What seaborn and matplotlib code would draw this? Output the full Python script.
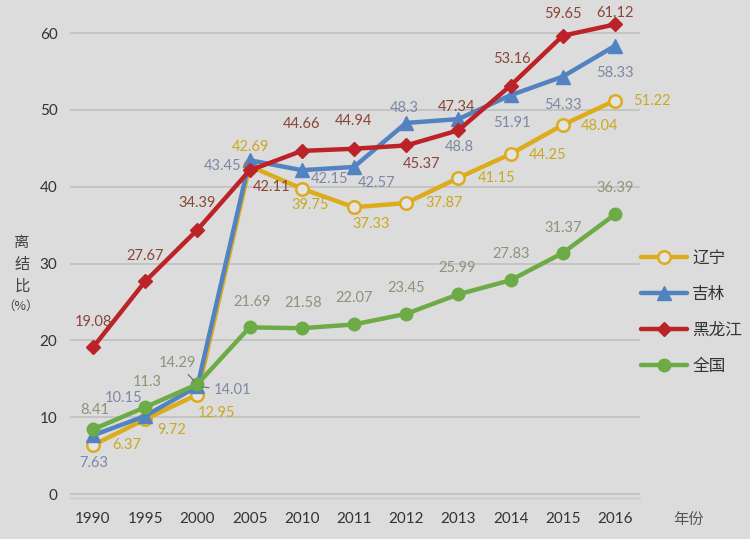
import numpy as np
import pandas as pd
import matplotlib
matplotlib.use("Agg")
import matplotlib.pyplot as plt
import seaborn as sns

years = ["1990", "1995", "2000", "2005", "2010", "2011", "2012", "2013", "2014", "2015", "2016"]
series_names = ["辽宁", "吉林", "黑龙江", "全国"]
liaoning = [6.37, 9.72, 12.95, 42.69, 39.75, 37.33, 37.87, 41.15, 44.25, 48.04, 51.22]
jilin = [7.63, 10.15, 14.01, 43.45, 42.15, 42.57, 48.3, 48.8, 51.91, 54.33, 58.33]
heilongjiang = [19.08, 27.67, 34.39, 42.11, 44.66, 44.94, 45.37, 47.34, 53.16, 59.65, 61.12]
quanguo = [8.41, 11.3, 14.29, 21.69, 21.58, 22.07, 23.45, 25.99, 27.83, 31.37, 36.39]
y_ticks = [0, 10, 20, 30, 40, 50, 60]

# styles
line_colors = ["#dcac1c", "#5283c0", "#bb2329", "#6cab45"]
label_colors = ["#c9a91f", "#7d88a3", "#8a4536", "#8b9478"]
markers = ["o", "^", "D", "o"]
msizes = [9, 10, 7, 9]
mfaces = ["#e4e4e4", None, None, None]

# label offsets in pixels (dx, dy)
offsets = [
    [(34, 0), (27, -11), (19, -18), (1, 19), (8, -16), (17, -17), (38, 0), (38, 0), (37, -1), (37, -1), (37, 0)],
    [(1, -28), (-22, 18), (35, -4), (-27, -6), (28, -9), (23, -16), (-2, 15), (1, -28), (1, -28), (0, -28), (0, -27)],
    [(0, 25), (0, 25), (0, 27), (22, -17), (0, 27), (0, 28), (15, -19), (-2, 23), (1, 27), (0, 22), (0, 11)],
    [(2, 19), (2, 25), (-20, 21), (2, 25), (1, 25), (0, 26), (0, 26), (-1, 26), (1, 26), (0, 25), (0, 26)],
]

bg = "#dcdcdc"
sns.set_theme(style="white")
plt.rcParams["font.family"] = ["Lato", "Noto Sans CJK SC", "DejaVu Sans"]

fig = plt.figure(figsize=(7.5, 5.39), dpi=100, facecolor=bg)
ax = fig.add_axes([70 / 750, (539 - 498) / 539, (640 - 70) / 750, (498 - 10) / 539])
ax.set_facecolor(bg)

pos = np.arange(len(years))
all_vals = [liaoning, jilin, heilongjiang, quanguo]
df = pd.DataFrame({
    "pos": np.tile(pos, len(series_names)),
    "val": np.concatenate(all_vals),
    "region": np.repeat(series_names, len(years)),
})

for k, name in enumerate(series_names):
    sub = df[df["region"] == name]
    kw = dict(marker=markers[k], markersize=msizes[k], markeredgecolor=line_colors[k],
              markeredgewidth=1.8 if k == 0 else 1.0)
    if mfaces[k] is not None:
        kw["markerfacecolor"] = mfaces[k]
    sns.lineplot(data=sub, x="pos", y="val", ax=ax, color=line_colors[k], linewidth=3.2,
                 label=name, zorder=3 + k, **kw)

# data labels
for k, vals in enumerate(all_vals):
    for i, v in enumerate(vals):
        dx, dy = offsets[k][i]
        txt = f"{v:g}"
        extra = {}
        if (k == 3 and i == 2) or (k == 1 and i == 2):
            extra["arrowprops"] = dict(arrowstyle="-", color="#6f7480", lw=0.9,
                                       shrinkA=1, shrinkB=3)
        ax.annotate(txt, (pos[i], v), xytext=(dx, dy), textcoords="offset pixels",
                    ha="center", va="center", fontsize=10.5, color=label_colors[k],
                    annotation_clip=False, zorder=10, **extra)

ax.set_xlim(-0.44, 10.48)
ax.set_ylim(-0.52, 63)
ax.set_yticks(y_ticks)
ax.set_xticks(pos)
ax.set_xticklabels(years)
ax.tick_params(axis="both", length=0, labelsize=11, colors="#333333")
ax.tick_params(axis="y", pad=9)
ax.tick_params(axis="x", pad=10)
for t in y_ticks:
    ax.axhline(t, color="#c2c2c2", lw=1.3, zorder=1)
for name, s in ax.spines.items():
    if name == "bottom":
        s.set_color("#c8c8c8")
        s.set_linewidth(1.0)
    else:
        s.set_visible(False)
ax.set_xlabel("")
ax.set_ylabel("")

cjk = ["Noto Sans CJK SC", "DejaVu Sans"]
for txt, yy in zip(["离", "结", "比"], [242, 264, 286]):
    fig.text(22 / 750, 1 - yy / 539, txt, ha="center", va="center",
             fontsize=11, color="#444444", family=cjk)
fig.text(21 / 750, 1 - 306 / 539, "（%）", ha="center", va="center",
         fontsize=9, color="#444444", family=cjk)
fig.text(688 / 750, 1 - 519 / 539, "年份", ha="center", va="center",
         fontsize=11, color="#555555", family=cjk)

leg = ax.legend(loc="upper left", bbox_to_anchor=(634 / 750, 1 - 243 / 539),
                bbox_transform=fig.transFigure, frameon=False, fontsize=12,
                handlelength=2.8, handletextpad=0.3, labelspacing=1.15, borderaxespad=0)
for t in leg.get_texts():
    t.set_color("#333333")
    t.set_family(cjk)

fig.savefig("out.png", dpi=100, facecolor=bg)
